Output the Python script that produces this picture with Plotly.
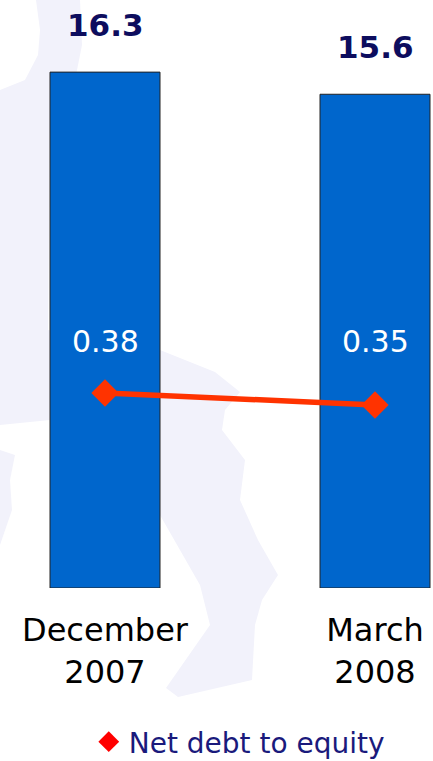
import plotly.graph_objects as go

# ---- data ----
categories = ["December<br>2007", "March<br>2008"]
bar_values = [16.3, 15.6]
ratio_values = [0.38, 0.35]
ratio_name = "Net debt to equity"

W, H = 433, 761
PLOT_TOP, PLOT_BOTTOM = 30, 588

BAR_COLOR = "#0066CC"
LINE_COLOR = "#FF3300"
NAVY = "#0D0D5E"
LEGEND_NAVY = "#1A1A7C"
WATERMARK = "#F2F2FB"
FONT = "DejaVu Sans"

fig = go.Figure()

fig.add_trace(go.Bar(
    x=categories, y=bar_values,
    width=0.4074,
    marker=dict(color=BAR_COLOR, line=dict(color="#222222", width=1)),
    showlegend=False, hoverinfo="skip",
))

fig.add_trace(go.Scatter(
    x=categories, y=ratio_values, yaxis="y2",
    mode="lines+markers",
    line=dict(color=LINE_COLOR, width=5.5),
    marker=dict(symbol="diamond", size=21, color=LINE_COLOR),
    showlegend=False, hoverinfo="skip",
))

# legend entry (marker only)
fig.add_trace(go.Scatter(
    x=[None], y=[None], yaxis="y2",
    mode="markers",
    marker=dict(symbol="diamond", size=20, color="#FF0000"),
    name=ratio_name, showlegend=True,
))

# label row height for the ratio values (same row for both bars)
RATIO_LABEL_Y = (PLOT_BOTTOM - 342) / (PLOT_BOTTOM - PLOT_TOP)

annotations = []
for c, v in zip(categories, bar_values):
    annotations.append(dict(
        x=c, y=v, xref="x", yref="y", text=f"{v:.1f}", showarrow=False,
        yanchor="middle", yshift=47,
        font=dict(family=FONT, size=31, color=NAVY, weight="bold"),
    ))
for c, v in zip(categories, ratio_values):
    annotations.append(dict(
        x=c, y=RATIO_LABEL_Y, xref="x", yref="paper", text=f"{v:.2f}",
        showarrow=False, yanchor="middle",
        font=dict(family=FONT, size=30, color="white"),
    ))

# faint background watermark (decorative), defined in pixel coords
def px(xp, yp):
    return xp / W, (PLOT_BOTTOM - yp) / (PLOT_BOTTOM - PLOT_TOP)

def path(points):
    s = ""
    for i, (a, b) in enumerate(points):
        X, Y = px(a, b)
        s += ("M" if i == 0 else "L") + f"{X:.4f},{Y:.4f} "
    return s + "Z"

wm1 = [(0, 90), (25, 80), (38, 55), (40, 30), (36, 0), (80, 0), (82, 45), (72, 95),
       (50, 125), (48, 330), (160, 350), (215, 372), (240, 392), (225, 410),
       (222, 430), (245, 460), (240, 500), (258, 540), (278, 575), (262, 600),
       (255, 625), (252, 680), (178, 697), (166, 688), (210, 625), (200, 585),
       (160, 515), (160, 425), (50, 420), (0, 425)]
wm2 = [(0, 450), (15, 455), (10, 480), (12, 510), (0, 545)]

shapes = [
    dict(type="path", path=path(wm1), xref="paper", yref="paper",
         fillcolor=WATERMARK, line=dict(width=0), layer="below"),
    dict(type="path", path=path(wm2), xref="paper", yref="paper",
         fillcolor=WATERMARK, line=dict(width=0), layer="below"),
]

px_per_unit = 31.65
y_top = (PLOT_BOTTOM - PLOT_TOP) / px_per_unit
r_px = 400.0
y2_lo = 0.38 - (PLOT_BOTTOM - 393) / r_px
y2_hi = 0.38 + (393 - PLOT_TOP) / r_px

fig.update_layout(
    width=W, height=H,
    margin=dict(l=0, r=0, t=PLOT_TOP, b=H - PLOT_BOTTOM, autoexpand=False),
    paper_bgcolor="white", plot_bgcolor="rgba(0,0,0,0)",
    font=dict(family=FONT),
    xaxis=dict(
        type="category", range=[-0.3889, 1.2148], automargin=False,
        showgrid=False, zeroline=False, showline=False, ticks="",
        tickfont=dict(family=FONT, size=32, color="black"),
        ticklabelstandoff=20,
    ),
    yaxis=dict(range=[0, y_top], visible=False, showgrid=False, zeroline=False,
               automargin=False),
    yaxis2=dict(range=[y2_lo, y2_hi], overlaying="y", side="right",
                visible=False, showgrid=False, zeroline=False, automargin=False),
    legend=dict(
        orientation="h", x=0.205, xanchor="left",
        yref="container", y=(H - 742) / H, yanchor="middle",
        font=dict(family=FONT, size=28, color=LEGEND_NAVY),
        bgcolor="rgba(0,0,0,0)",
    ),
    annotations=annotations,
    shapes=shapes,
)

fig.write_html("out.html")
